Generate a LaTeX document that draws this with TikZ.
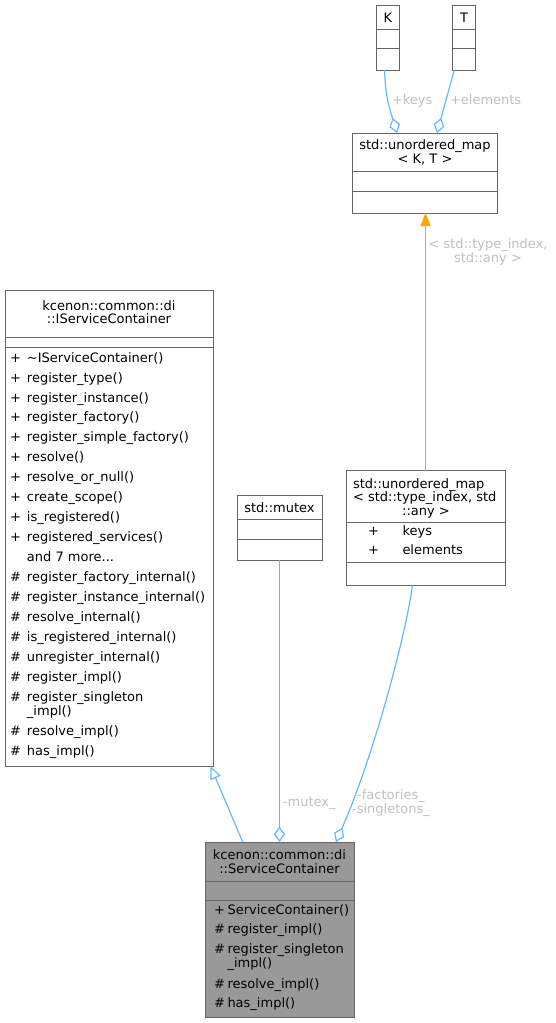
\documentclass[tikz,border=0pt]{standalone}
\usepackage{fontspec}
\setmainfont{DejaVu Sans}
\usetikzlibrary{arrows.meta}
\definecolor{edgeblue}{HTML}{63B8FF}
\definecolor{edgeorange}{HTML}{FFA500}
\definecolor{labelgrey}{HTML}{BFBFBF}
\definecolor{boxgrey}{HTML}{666666}
\definecolor{fillgrey}{HTML}{999999}
\newcommand{\andsevenmore}{and 7 more...}
\begin{document}
\begin{tikzpicture}[x=1pt,y=-1pt,
  umlbox/.style={draw=boxgrey, line width=0.9pt, fill=white, rectangle, anchor=north west, inner sep=0pt, outer sep=0pt},
  sepline/.style={draw=boxgrey, line width=0.9pt},
  txt/.style={inner sep=0pt, outer sep=0pt, font=\fontsize{13}{15}\selectfont},
  mem/.style={txt, anchor=base west},
  ctr/.style={txt, anchor=base},
  lbl/.style={txt, text=labelgrey},
  link/.style={draw=edgeblue, line width=1.2pt},
  aggr/.style={link, -{Diamond[open, fill=white, length=15.5pt, width=11pt]}},
  inherit/.style={link, -{Triangle[open, fill=white, length=13pt, width=11pt]}},
  templ/.style={draw=edgeorange, line width=1.2pt, -{Triangle[length=13pt, width=10pt, fill=edgeorange]}}
]
\useasboundingbox (0,0) rectangle (555,1023);

% ---------- boxes ----------
\node[umlbox, minimum width=22.5pt, minimum height=65pt] (K) at (376.5,5) {};
\draw[sepline] (376.5,29) -- (399,29);
\draw[sepline] (376.5,48) -- (399,48);
\node[ctr] (Kt) at (388,22) {K};

\node[umlbox, minimum width=22.5pt, minimum height=65pt] (T) at (452.5,5) {};
\draw[sepline] (452.5,29) -- (475,29);
\draw[sepline] (452.5,48) -- (475,48);
\node[ctr] (Tt) at (464,22) {T};

\node[umlbox, minimum width=144.5pt, minimum height=80pt] (M) at (352.5,133) {};
\draw[sepline] (352.5,171) -- (497,171);
\draw[sepline] (352.5,191) -- (497,191);
\node[ctr] (Mt1) at (425,149.5) {std::unordered\_map};
\node[ctr] (Mt2) at (425,163) {< K, T >};

\node[umlbox, minimum width=208pt, minimum height=476pt] (I) at (5,290) {};
\draw[sepline] (5,337) -- (213,337);
\draw[sepline] (5,347) -- (213,347);
\node[ctr] (It1) at (109,310) {kcenon::common::di};
\node[ctr] (It2) at (109,323) {::IServiceContainer};
\foreach \p/\n/\y [count=\i] in {
  +/\textasciitilde IServiceContainer()/362,
  +/register\_type()/382,
  +/register\_instance()/402,
  +/register\_factory()/421.5,
  +/register\_simple\_factory()/441.5,
  +/resolve()/461.5,
  +/resolve\_or\_null()/481,
  +/create\_scope()/501,
  +/is\_registered()/521,
  +/registered\_services()/541,
  {}/\andsevenmore/561,
  \#/register\_factory\_internal()/581,
  \#/register\_instance\_internal()/601,
  \#/resolve\_internal()/621,
  \#/is\_registered\_internal()/641,
  \#/unregister\_internal()/661,
  \#/register\_impl()/681,
  \#/register\_singleton/701.5,
  {}/\_impl()/715.5,
  \#/resolve\_impl()/735,
  \#/has\_impl()/755}{
  \node[mem] (Ip\i) at (10,\y) {\p};
  \node[mem] (In\i) at (27,\y) {\n};
}

\node[umlbox, minimum width=85pt, minimum height=65pt] (X) at (237,495) {};
\draw[sepline] (237,519) -- (322,519);
\draw[sepline] (237,539) -- (322,539);
\node[ctr] (Xt) at (279.5,512) {std::mutex};

\node[umlbox, minimum width=158.5pt, minimum height=114.5pt] (U) at (346.5,470.5) {};
\draw[sepline] (346.5,522) -- (505,522);
\draw[sepline] (346.5,562) -- (505,562);
\node[mem] (Ut1) at (353,488) {std::unordered\_map};
\node[mem] (Ut2) at (353,501) {< std::type\_index, std};
\node[ctr] (Ut3) at (426,515) {::any >};
\node[mem] (Up1) at (368,535.7) {+};
\node[mem] (Un1) at (402.5,535.7) {keys};
\node[mem] (Up2) at (368,554.7) {+};
\node[mem] (Un2) at (402.5,554.7) {elements};

\node[umlbox, fill=fillgrey, minimum width=149pt, minimum height=175pt] (S) at (205,842) {};
\draw[sepline] (205,881) -- (354,881);
\draw[sepline] (205,900) -- (354,900);
\node[ctr] (St1) at (279.5,859.5) {kcenon::common::di};
\node[ctr] (St2) at (279.5,873) {::ServiceContainer};
\foreach \p/\n/\y [count=\i] in {
  +/ServiceContainer()/914,
  \#/register\_impl()/933.5,
  \#/register\_singleton/953.5,
  {}/\_impl()/967,
  \#/resolve\_impl()/988,
  \#/has\_impl()/1007.5}{
  \node[mem] (Sp\i) at (214,\y) {\p};
  \node[mem] (Sn\i) at (227.5,\y) {\n};
}

% ---------- connectors ----------
\draw[aggr] ([xshift=-3pt]K.south) .. controls +(0,25) and +(-7,-23) .. ([xshift=44.5pt]M.north west);
\draw[aggr] ([xshift=-9.5pt]T.south) -- ([xshift=84.5pt]M.north west);
\node[lbl, anchor=base west] (Lk) at (392,104.5) {+keys};
\node[lbl, anchor=base west] (Le) at (450,104.5) {+elements};

\draw[templ] ([xshift=-0.25pt]U.north) -- ([xshift=-0.25pt]U.north |- M.south);
\node[lbl, anchor=base] (Lt1) at (488,248) {< std::type\_index,};
\node[lbl, anchor=base] (Lt2) at (488,262.5) {std::any >};

\draw[inherit] ([xshift=37.7pt]S.north west) -- ([xshift=-2.5pt]I.south east);

\draw[aggr] (X.south) -- (X.south |- S.north);
\node[lbl, anchor=base west] (Lm) at (283,806) {-mutex\_};

\draw[aggr] ([xshift=66pt]U.south west) .. controls +(-7.5,55) and +(36,-82) .. ([xshift=131pt]S.north west);
\node[lbl, anchor=base] (Lf1) at (391,799) {-factories\_};
\node[lbl, anchor=base] (Lf2) at (391,813) {-singletons\_};
\end{tikzpicture}
\end{document}
